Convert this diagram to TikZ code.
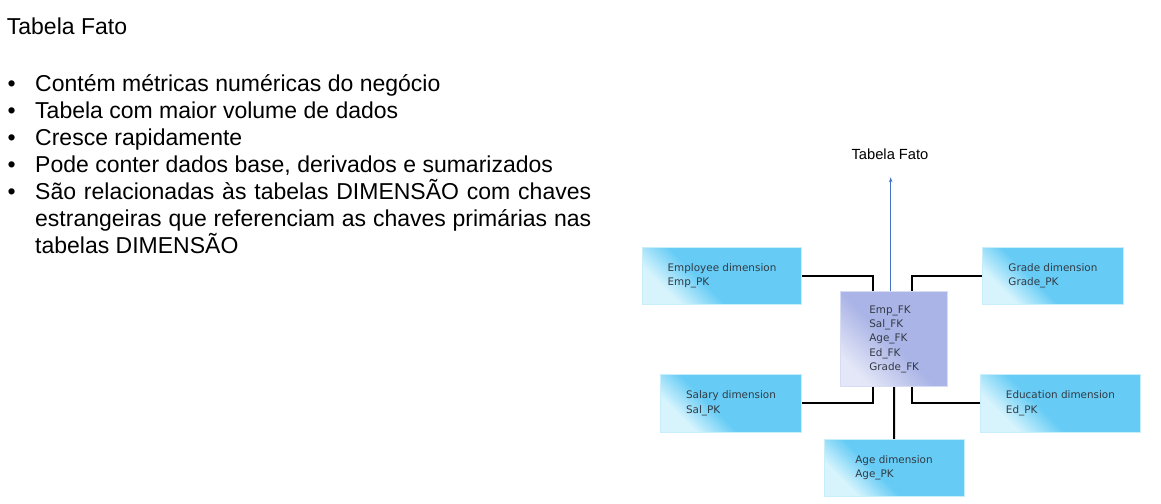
\documentclass[tikz,border=0pt]{standalone}
\usepackage{fontspec}
\setmainfont{Liberation Sans}
\newfontfamily\boxfont{DejaVu Sans}
\usetikzlibrary{arrows.meta}

\definecolor{dimblue}{RGB}{102,204,245}
\definecolor{dimlight}{RGB}{215,244,253}
\definecolor{dimedge}{RGB}{200,238,252}
\definecolor{factblue}{RGB}{170,180,230}
\definecolor{factlight}{RGB}{228,231,247}
\definecolor{factedge}{RGB}{215,220,245}
\definecolor{boxtext}{RGB}{50,58,68}
\definecolor{arrowblue}{RGB}{68,114,196}

\pgfdeclareverticalshading{dimshade}{100bp}{color(0bp)=(dimlight); color(27bp)=(dimlight); color(42bp)=(dimblue); color(100bp)=(dimblue)}
\pgfdeclareverticalshading{factshade}{100bp}{color(0bp)=(factlight); color(25bp)=(factlight); color(48bp)=(factblue); color(100bp)=(factblue)}

\begin{document}
\begin{tikzpicture}[x=1pt,y=-1pt,
      dimbox/.style={shade,shading=dimshade,shading angle=-45,draw=dimedge,line width=0.8pt,
        inner sep=0pt,minimum height=57.4pt,align=left,text=boxtext,
        font=\boxfont\fontsize{10.4}{14.3}\selectfont},
      factbox/.style={dimbox,shading=factshade,draw=factedge,minimum width=107pt,minimum height=95pt},
      link/.style={line width=2pt},
      bullettext/.style={anchor=base west,inner sep=0pt,font=\fontsize{23}{27}\selectfont}]
    \useasboundingbox (0,0) rectangle (1161,503);
    % texto da esquerda
    \node[bullettext] (titulo) at (6.7,35) {Tabela Fato};
    \foreach \txt [count=\i] in {Contém métricas numéricas do negócio,
        Tabela com maior volume de dados,
        Cresce rapidamente,
        {Pode conter dados base, derivados e sumarizados},
        \makebox[556pt][s]{São relacionadas às tabelas DIMENSÃO com chaves},
        \makebox[556pt][s]{estrangeiras que referenciam as chaves primárias nas},
        tabelas DIMENSÃO}
      \node[bullettext] (linha\i) at (35,64+27*\i) {\txt};
    \foreach \i in {1,...,5}
      \node[bullettext] (bala\i) at (7.5,64+27*\i) {\textbullet};
    % esquema estrela
    \node[dimbox,minimum width=159.4pt] (emp) at (722,276) {Employee dimension\\Emp\_PK};
    \node[dimbox,minimum width=141.7pt] (grade) at (1052.9,276) {Grade dimension\\Grade\_PK};
    \node[dimbox,minimum width=141.4pt] (sal) at (731,403.2) {Salary dimension\\Sal\_PK};
    \node[dimbox,minimum width=159.3pt] (edu) at (1060.4,403.2) {Education dimension\\Ed\_PK};
    \node[dimbox,minimum width=140pt] (age) at (894,468) {Age dimension\\Age\_PK};
    \node[factbox] (fato) at (894.2,339.2) {Emp\_FK\\Sal\_FK\\Age\_FK\\Ed\_FK\\Grade\_FK};
    \node[anchor=base,inner sep=0pt,font=\fontsize{14.7}{17}\selectfont] (rotulo) at (890,159) {Tabela Fato};
    \coordinate (topo) at (890.7,177.3);
    \draw[link] (emp.east) -| ([xshift=-21pt]fato.north);
    \draw[link] (grade.west) -| ([xshift=18pt]fato.north);
    \draw[link] (sal.east) -| ([xshift=-21pt]fato.south);
    \draw[link] (edu.west) -| ([xshift=18pt]fato.south);
    \draw[link] (fato.south) -- (age.north);
    \draw[arrowblue,line width=1pt,-{Stealth[length=5pt,width=3.5pt]}] ([xshift=-3.5pt]fato.north) -- (topo);
\end{tikzpicture}
\end{document}
